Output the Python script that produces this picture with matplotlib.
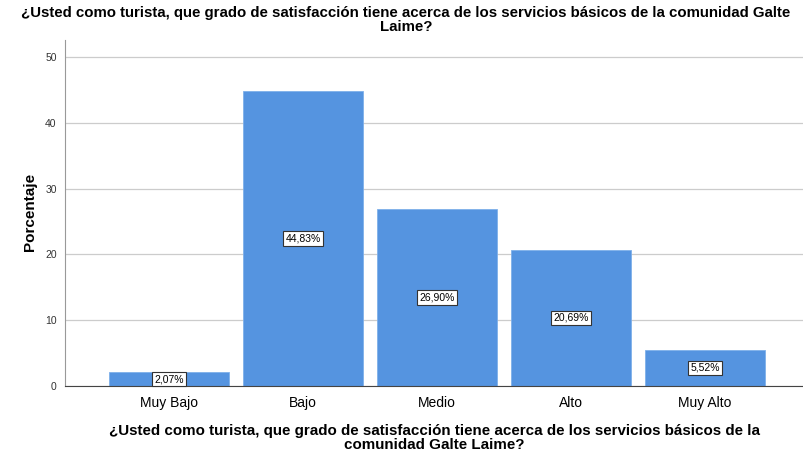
import matplotlib
matplotlib.use("Agg")
from matplotlib import pyplot as plt

categorias = ["Muy Bajo", "Bajo", "Medio", "Alto", "Muy Alto"]
porcentajes = [2.07, 44.83, 26.90, 20.69, 5.52]
etiquetas = ["2,07%", "44,83%", "26,90%", "20,69%", "5,52%"]
y_ticks = [0, 10, 20, 30, 40, 50]

titulo = ("¿Usted como turista, que grado de satisfacción tiene acerca de los servicios básicos de la comunidad Galte\n"
          "Laime?")
xtitulo = ("¿Usted como turista, que grado de satisfacción tiene acerca de los servicios básicos de la\n"
           "comunidad Galte Laime?")

plt.rcParams['font.family'] = ['Liberation Sans', 'DejaVu Sans']

fig = plt.figure(figsize=(8.04, 4.59), dpi=100)
ax = fig.add_axes([65 / 804, 1 - 386 / 459, 1 - 65 / 804, (386 - 40) / 459])

x = list(range(len(categorias)))
ax.bar(x, porcentajes, width=0.895, color="#5594e0", edgecolor="#7fb0ea", linewidth=0.6, zorder=2)

for xi, v, lab in zip(x, porcentajes, etiquetas):
    ax.text(xi, v / 2, lab, ha="center", va="center", fontsize=7.5, zorder=3,
            bbox=dict(boxstyle="square,pad=0.2", facecolor="white", edgecolor="#333333", linewidth=0.8))

ax.set_xlim(-0.776, 4.74)
ax.set_ylim(0, 52.6)
ax.set_yticks(y_ticks)
ax.set_xticks(x)
ax.set_xticklabels(categorias, fontsize=10)
ax.tick_params(axis="y", length=0, labelsize=7.5, pad=6, colors="#333333")
ax.tick_params(axis="x", length=0, pad=7)
ax.yaxis.grid(True, color="#cccccc", linewidth=0.9, zorder=0)
ax.set_axisbelow(True)

for s in ["top", "right"]:
    ax.spines[s].set_visible(False)
ax.spines["left"].set_color("#999999")
ax.spines["bottom"].set_color("#444444")

ax.set_ylabel("Porcentaje", fontsize=11, fontweight="bold")
ax.yaxis.set_label_coords(-28 / 739, 0.5 + (346 / 2 - (212 - 40)) / 346)
ax.set_xlabel(xtitulo, fontsize=10.9, fontweight="bold", labelpad=10, linespacing=1.05)

fig.text(0.505, 0.988, titulo, ha="center", va="top", fontsize=10.8, fontweight="bold", linespacing=1.0)

fig.savefig("out.png", dpi=100)
